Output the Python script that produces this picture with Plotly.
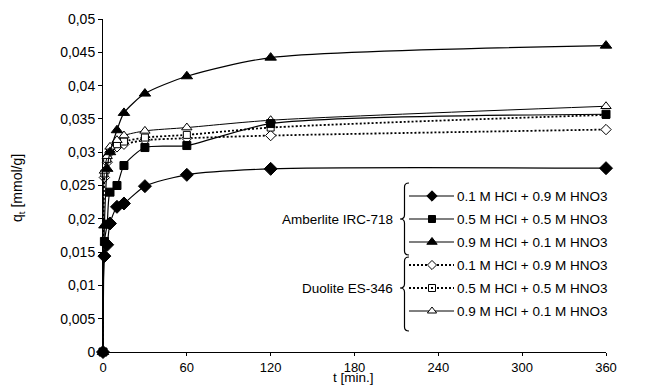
import plotly.graph_objects as go

# ---------------- data ----------------
t_min = [0, 1, 3, 5, 10, 15, 30, 60, 120, 360]

amb_01 = [0, 0.0144, 0.0161, 0.0193, 0.0218, 0.0223, 0.0249, 0.0266, 0.0275, 0.0276]
amb_05 = [0, 0.0166, 0.0192, 0.0240, 0.0250, 0.0280, 0.0307, 0.0310, 0.0343, 0.0357]
amb_09 = [0, 0.0190, 0.0275, 0.0300, 0.0333, 0.0359, 0.0388, 0.0414, 0.0442, 0.0460]

duo_01 = [0, 0.0262, 0.0285, 0.0300, 0.0308, 0.0312, 0.0318, 0.0321, 0.0325, 0.0334]
duo_05 = [0, 0.0268, 0.0290, 0.0303, 0.0312, 0.0316, 0.0322, 0.0326, 0.0337, 0.0356]
duo_09 = [0, 0.0272, 0.0294, 0.0308, 0.0318, 0.0325, 0.0332, 0.0337, 0.0348, 0.0369]

series_labels = ["0.1 M HCl + 0.9 M HNO3", "0.5 M HCl + 0.5 M HNO3", "0.9 M HCl + 0.1 M HNO3"]
resin_names = ["Amberlite IRC-718", "Duolite ES-346"]

x_ticks = [0, 60, 120, 180, 240, 300, 360]
y_ticks = [0, 0.005, 0.01, 0.015, 0.02, 0.025, 0.03, 0.035, 0.04, 0.045, 0.05]
y_tick_labels = ["0", "0,005", "0,01", "0,015", "0,02", "0,025", "0,03", "0,035", "0,04", "0,045", "0,05"]
x_title = "t [min.]"
y_title = "q<sub>t</sub> [mmol/g]"

# ---------------- geometry (page pixels, body margin removed) ----------------
W, H = 647, 386
L, R, T, B = 103, 606, 19, 352

def px(x):
    return (x - L) / (R - L)

def py(y):
    return (B - y) / (B - T)

FONT = "Liberation Sans, Arial, Helvetica, sans-serif"

fig = go.Figure()

styles = [
    # (data, symbol, fill, size, dash, width)
    (duo_01, "diamond", "white", 8, "2px,2px", 1.8),
    (duo_05, "square", "white", 7, "2px,2px", 1.8),
    (duo_09, "triangle-up", "white", 9, "solid", 1.0),
    (amb_01, "diamond", "black", 10, "solid", 1.2),
    (amb_05, "square", "black", 8, "solid", 1.2),
    (amb_09, "triangle-up", "black", 10, "solid", 1.2),
]

for data, sym, fill, size, dash, width in styles:
    fig.add_trace(go.Scatter(
        x=t_min, y=data, mode="lines+markers",
        line=dict(color="black", width=width, dash=dash, shape="spline", smoothing=0.7),
        marker=dict(symbol=sym, color=fill, size=size, line=dict(color="black", width=1)),
        showlegend=False, cliponaxis=False,
    ))

# ---------------- custom legend (overlay axes in paper units) ----------------
row_y = [196, 219, 242, 265, 288, 311]
leg_styles = [
    ("diamond", "black", 8, "solid", 1.2),
    ("square", "black", 7, "solid", 1.2),
    ("triangle-up", "black", 9, "solid", 1.2),
    ("diamond", "white", 7, "2px,2px", 1.8),
    ("square", "white", 7, "2px,2px", 1.8),
    ("triangle-up", "white", 8, "solid", 1.0),
]
labels6 = series_labels + series_labels
LX0, LX1, LXM, TX = 409, 454, 432, 455
for i, (sym, fill, size, dash, width) in enumerate(leg_styles):
    yy = py(row_y[i])
    fig.add_trace(go.Scatter(
        x=[px(LX0), px(LX1)], y=[yy, yy], mode="lines",
        line=dict(color="black", width=width, dash=dash),
        xaxis="x2", yaxis="y2", showlegend=False, hoverinfo="skip",
    ))
    fig.add_trace(go.Scatter(
        x=[px(LXM)], y=[yy], mode="markers",
        marker=dict(symbol=sym, color=fill, size=size, line=dict(color="black", width=1)),
        xaxis="x2", yaxis="y2", showlegend=False, hoverinfo="skip",
    ))
    if i == 4:
        fig.add_trace(go.Scatter(
            x=[px(LXM)], y=[yy], mode="markers",
            marker=dict(symbol="square", color="black", size=2, line=dict(width=0)),
            xaxis="x2", yaxis="y2", showlegend=False, hoverinfo="skip",
        ))
    fig.add_annotation(x=px(TX), y=yy, xref="paper", yref="paper", text=labels6[i],
                       showarrow=False, xanchor="left", yanchor="middle",
                       font=dict(family=FONT, size=13.5, color="black"))

def brace(x_right, top, bottom, tip):
    w = 9
    xm = x_right - w / 2
    xl = x_right - w
    r = 4
    p = (f"M {px(x_right)},{py(top)} "
         f"Q {px(xm)},{py(top)} {px(xm)},{py(top + r)} "
         f"L {px(xm)},{py(tip - r)} "
         f"Q {px(xm)},{py(tip)} {px(xl)},{py(tip)} "
         f"Q {px(xm)},{py(tip)} {px(xm)},{py(tip + r)} "
         f"L {px(xm)},{py(bottom - r)} "
         f"Q {px(xm)},{py(bottom)} {px(x_right)},{py(bottom)}")
    return dict(type="path", path=p, xref="paper", yref="paper",
                line=dict(color="black", width=1.2))

fig.add_shape(brace(409, 183, 255, 219))
fig.add_shape(brace(409, 257, 331, 288))

fig.add_annotation(x=px(395), y=py(219), xref="paper", yref="paper", text=resin_names[0],
                   showarrow=False, xanchor="right", yanchor="middle",
                   font=dict(family=FONT, size=13.5, color="black"))
fig.add_annotation(x=px(395), y=py(288), xref="paper", yref="paper", text=resin_names[1],
                   showarrow=False, xanchor="right", yanchor="middle",
                   font=dict(family=FONT, size=13.5, color="black"))

# axis titles as annotations (exact placement)
fig.add_annotation(x=px(353), y=py(386), xref="paper", yref="paper", text=x_title,
                   showarrow=False, xanchor="center", yanchor="bottom", borderpad=0,
                   font=dict(family=FONT, size=13.5, color="black"))
fig.add_annotation(x=px(18), y=py(188), xref="paper", yref="paper", text=y_title,
                   showarrow=False, xanchor="center", yanchor="middle", textangle=-90,
                   font=dict(family=FONT, size=14, color="black"))

fig.update_layout(
    template="none",
    width=W, height=H,
    margin=dict(l=L, r=W - R, t=T, b=H - B, pad=0, autoexpand=False),
    paper_bgcolor="white", plot_bgcolor="white",
    font=dict(family=FONT, size=14, color="black"),
    showlegend=False,
    xaxis=dict(
        range=[0, 360], tickvals=x_ticks, ticktext=[str(v) for v in x_ticks],
        showgrid=False, zeroline=False, showline=True, linecolor="black", linewidth=1,
        ticks="outside", ticklen=3, tickcolor="black", tickfont=dict(size=13),
        automargin=False,
    ),
    yaxis=dict(
        range=[0, 0.05], tickvals=y_ticks, ticktext=y_tick_labels,
        showgrid=False, zeroline=False, showline=True, linecolor="black", linewidth=1,
        ticks="outside", ticklen=4, tickcolor="black", tickfont=dict(size=14),
        automargin=False,
    ),
    xaxis2=dict(range=[0, 1], overlaying="x", visible=False, fixedrange=True, automargin=False),
    yaxis2=dict(range=[0, 1], overlaying="y", visible=False, fixedrange=True, automargin=False),
)

fig.write_html("out.html", config={"displayModeBar": False},
               post_script="document.body.style.margin='0';")
